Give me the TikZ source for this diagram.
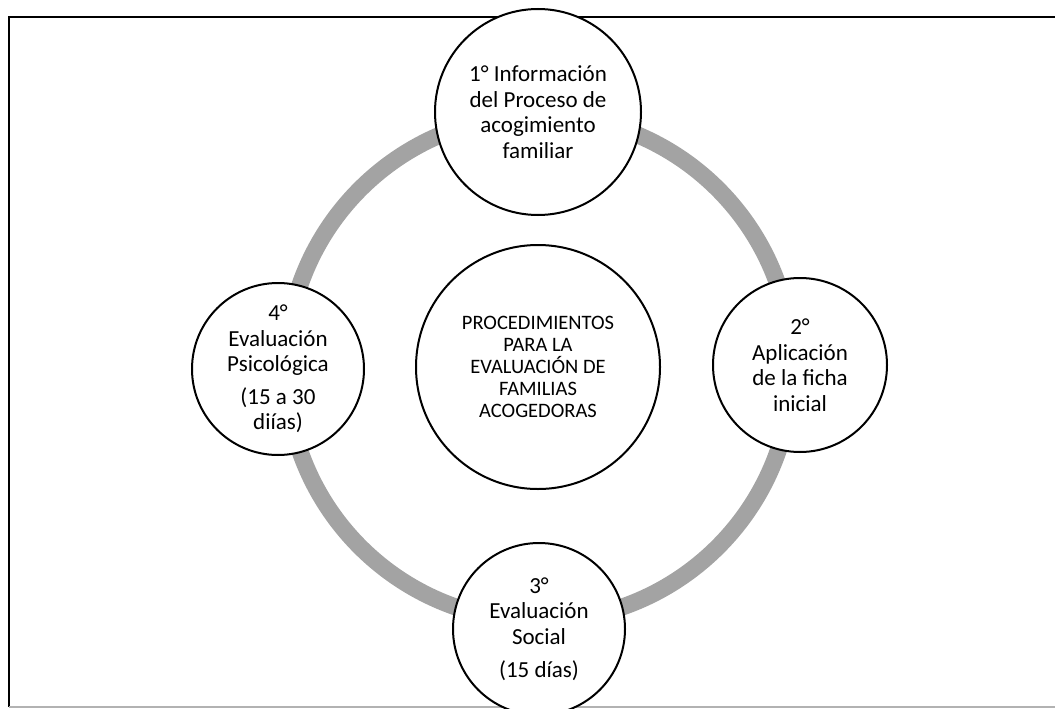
\documentclass[tikz,border=0pt]{standalone}
\usepackage{fontspec}
\setmainfont{Carlito}
\definecolor{ringgray}{RGB}{163,163,163}
\tikzset{
  stage/.style={circle, draw=black, line width=2pt, fill=white, inner sep=0pt, align=center,
     font=\fontsize{23}{25.5}\selectfont},
  hub/.style={circle, draw=black, line width=2pt, fill=white, inner sep=0pt, align=center,
     font=\fontsize{20.5}{22}\selectfont},
  ring/.style={draw=ringgray, line width=17pt},
  frame/.style={draw=black, line width=1.8pt}
}
\begin{document}
\begin{tikzpicture}[x=1pt, y=-1pt]
\useasboundingbox (0,0) rectangle (1055,709);
\clip (0,0) rectangle (1055,709);
\draw[frame] (1060,17) -- (9,17) -- (9,707);
\draw[draw=gray!60, line width=1.5pt] (9,707) -- (1060,707);
\coordinate (c) at (539,368);
\draw[ring] (c) circle (253);
\node[hub, minimum size=244pt] (hub) at (538,367)
  {PROCEDIMIENTOS\\PARA LA\\EVALUACIÓN DE\\FAMILIAS\\ACOGEDORAS};
\node[stage, minimum size=206pt] (s1) at (538,112)
  {1° Información\\del Proceso de\\acogimiento\\familiar};
\node[stage, minimum size=174pt] (s2) at (800,365)
  {2°\\Aplicación\\de la ficha\\inicial};
\node[stage, minimum size=172pt] (s3) at (539,629)
  {3°\\Evaluación\\Social\\[8pt](15 días)};
\node[stage, minimum size=172pt] (s4) at (278,369)
  {4°\\Evaluación\\Psicológica\\[7pt](15 a 30\\diías)};
\end{tikzpicture}
\end{document}
